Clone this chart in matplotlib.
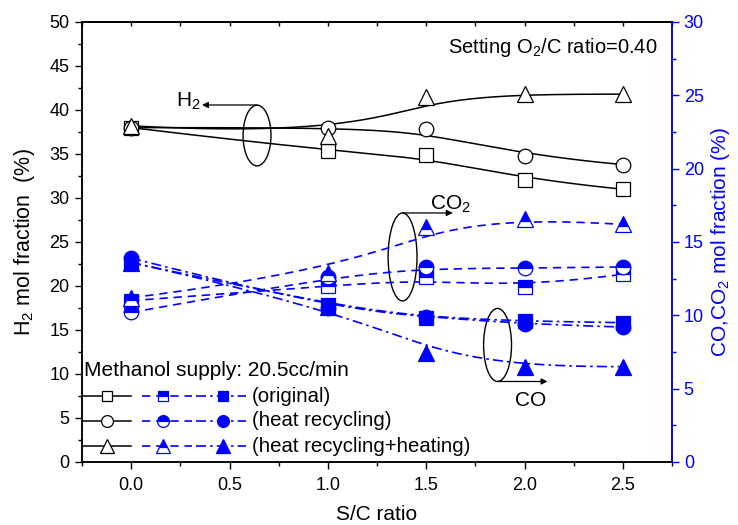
import numpy as np
import matplotlib
matplotlib.use("Agg")
import matplotlib.pyplot as plt
from matplotlib.patches import Ellipse
from matplotlib.ticker import MultipleLocator

plt.rcParams['font.family'] = ['Liberation Sans', 'DejaVu Sans']
plt.rcParams['mathtext.fontset'] = 'custom'
plt.rcParams['mathtext.rm'] = 'Liberation Sans'
plt.rcParams['mathtext.it'] = 'Liberation Sans'

# ---- data ----
sc_ratio = [0.0, 1.0, 1.5, 2.0, 2.5]

h2_original = [38.0, 35.3, 34.9, 32.1, 31.0]
h2_heat = [38.0, 38.0, 37.8, 34.8, 33.8]
h2_heat_heating = [38.2, 37.0, 41.5, 41.8, 41.8]

co2_original = [11.0, 12.0, 12.6, 11.9, 12.8]
co2_heat = [10.2, 12.6, 13.3, 13.2, 13.3]
co2_heat_heating = [11.2, 12.9, 16.0, 16.6, 16.2]

co_original = [13.6, 10.7, 9.8, 9.6, 9.5]
co_heat = [13.9, 10.5, 9.9, 9.4, 9.2]
co_heat_heating = [13.6, 10.6, 7.4, 6.5, 6.5]

legend_labels = ['(original)', '(heat recycling)', '(heat recycling+heating)']
markers = ['s', 'o', '^']

BLUE = '#0000FF'
MS = {'s': 10, 'o': 10.5, '^': 12}
MS_LEG = {'s': 7.5, 'o': 8.5, '^': 10.5}


def bspline(xs, ys, n=300, k=3):
    P = np.column_stack([xs, ys]).astype(float)
    m = len(P)
    knots = np.concatenate([[0] * k, np.arange(0, m - k + 1), [m - k] * k]).astype(float)
    t = np.linspace(0, m - k - 1e-9, n)

    def N(i, p, t):
        if p == 0:
            return ((knots[i] <= t) & (t < knots[i + 1])).astype(float)
        a = np.zeros_like(t)
        b = np.zeros_like(t)
        d1 = knots[i + p] - knots[i]
        d2 = knots[i + p + 1] - knots[i + 1]
        if d1 > 0:
            a = (t - knots[i]) / d1 * N(i, p - 1, t)
        if d2 > 0:
            b = (knots[i + p + 1] - t) / d2 * N(i + 1, p - 1, t)
        return a + b

    B = np.array([N(i, k, t) for i in range(m)])
    C = B.T @ P
    C = np.vstack([C, P[-1]])
    return C[:, 0], C[:, 1]


DASH = (0, (5, 3.5))
DASHDOT = (0, (6, 2.5, 1.5, 2.5))

fig = plt.figure(figsize=(7.38, 5.25), dpi=100)
ax = fig.add_axes([82 / 738, 1 - 462 / 525, 590 / 738, 440 / 525])
ax2 = ax.twinx()

# H2 curves
for ys, mk in zip([h2_original, h2_heat, h2_heat_heating], markers):
    sx, sy = bspline(sc_ratio, ys)
    ax.plot(sx, sy, color='black', lw=1.1, zorder=2)
    ax.plot(sc_ratio, ys, linestyle='none', marker=mk, ms=MS[mk],
            mfc='white', mec='black', mew=0.9, zorder=3)

# CO2 curves (dashed, half-filled markers)
for ys, mk in zip([co2_original, co2_heat, co2_heat_heating], markers):
    sx, sy = bspline(sc_ratio, ys)
    ax2.plot(sx, sy, color=BLUE, lw=1.2, ls=DASH, zorder=2)
    ax2.plot(sc_ratio, ys, linestyle='none', marker=mk, ms=MS[mk],
             fillstyle='top', mfc=BLUE, mfcalt='white', mec=BLUE, mew=0.9, zorder=3)

# CO curves (dash-dot, filled markers)
for ys, mk in zip([co_original, co_heat, co_heat_heating], markers):
    sx, sy = bspline(sc_ratio, ys)
    ax2.plot(sx, sy, color=BLUE, lw=1.2, ls=DASHDOT, zorder=2)
    ax2.plot(sc_ratio, ys, linestyle='none', marker=mk, ms=MS[mk],
             mfc=BLUE, mec=BLUE, mew=0.9, zorder=3)

# axes limits/ticks
ax.set_xlim(-0.25, 2.75)
ax.set_ylim(0, 50)
ax2.set_ylim(0, 30)
ax.xaxis.set_major_locator(MultipleLocator(0.5))
ax.xaxis.set_minor_locator(MultipleLocator(0.25))
ax.yaxis.set_major_locator(MultipleLocator(5))
ax.yaxis.set_minor_locator(MultipleLocator(2.5))
ax2.yaxis.set_major_locator(MultipleLocator(5))
ax2.yaxis.set_minor_locator(MultipleLocator(2.5))
ax.xaxis.set_major_formatter(matplotlib.ticker.FormatStrFormatter('%.1f'))

ax.tick_params(axis='both', which='major', direction='out', length=5, width=1, labelsize=13, pad=4)
ax.tick_params(axis='both', which='minor', direction='out', length=3, width=1)
ax.tick_params(axis='x', top=False, pad=6)
ax2.tick_params(axis='y', which='major', direction='out', length=5, width=1, colors=BLUE, labelsize=13)
ax2.tick_params(axis='y', which='minor', direction='out', length=3, width=1, colors=BLUE)
ax2.spines['right'].set_color(BLUE)

sec = ax.secondary_xaxis('top')
sec.xaxis.set_major_locator(MultipleLocator(0.25))
sec.tick_params(direction='in', length=3, width=1, labeltop=False)

for a in (ax, ax2):
    for s in a.spines.values():
        s.set_linewidth(1.1)
sec.spines['top'].set_linewidth(1.1)

ax.set_xlabel('S/C ratio', fontsize=15, labelpad=8)
ax.set_ylabel('H$_2$ mol fraction  (%)', fontsize=15.5, labelpad=9)
ax2.set_ylabel('CO,CO$_2$ mol fraction (%)', fontsize=15, color=BLUE, labelpad=4)

ax2.set_zorder(ax.get_zorder() + 1)
ax.patch.set_visible(True)
ax2.patch.set_visible(False)

# annotations (in left-axis data coords)
ell_kw = dict(fill=False, edgecolor='black', lw=1.0, zorder=5)
ax.add_patch(Ellipse((0.64, 37.1), 0.142, 6.9, **ell_kw))
ax.add_patch(Ellipse((1.38, 23.3), 0.147, 10.0, **ell_kw))
ax.add_patch(Ellipse((1.863, 13.3), 0.142, 8.3, **ell_kw))
arr = dict(arrowstyle='-|>', lw=0.9, color='black', mutation_scale=9, shrinkA=0, shrinkB=0)
ax.annotate('', xy=(0.36, 40.57), xytext=(0.64, 40.57), arrowprops=arr, zorder=5)
ax.annotate('', xy=(1.635, 28.3), xytext=(1.38, 28.3), arrowprops=arr, zorder=5)
ax.annotate('', xy=(2.117, 9.15), xytext=(1.863, 9.15), arrowprops=arr, zorder=5)
ax.text(0.355, 41.0, 'H$_2$', fontsize=15, ha='right', va='center')
ax.text(1.52, 29.3, 'CO$_2$', fontsize=15, ha='left', va='center')
ax.text(1.95, 7.0, 'CO', fontsize=15, ha='left', va='center')

ax.text(0.976, 0.943, 'Setting O$_2$/C ratio=0.40', transform=ax.transAxes,
        fontsize=14.5, ha='right', va='center')


# custom legend (axes fraction coordinates)
def fx(px):
    return (px - 82) / 590


def fy(py):
    return (462 - py) / 440


ax.text(fx(84), fy(370), 'Methanol supply: 20.5cc/min', transform=ax.transAxes,
        fontsize=15, ha='left', va='center')
for row, (mk, lab) in enumerate(zip(markers, legend_labels)):
    y = fy(396 + row * 25)
    msz = MS_LEG[mk]
    ax2.plot([fx(83), fx(131)], [y, y], color='black', lw=1.1, transform=ax.transAxes, clip_on=False)
    ax2.plot([fx(107)], [y], marker=mk, ms=msz, mfc='white', mec='black', mew=0.9,
             transform=ax.transAxes, clip_on=False, ls='none')
    ax2.plot([fx(142), fx(192)], [y, y], color=BLUE, lw=1.2, ls=DASH,
             transform=ax.transAxes, clip_on=False)
    ax2.plot([fx(163)], [y], marker=mk, ms=msz, fillstyle='top', mfc=BLUE, mfcalt='white',
             mec=BLUE, mew=0.9, transform=ax.transAxes, clip_on=False, ls='none')
    ax2.plot([fx(196), fx(246)], [y, y], color=BLUE, lw=1.2, ls=DASHDOT,
             transform=ax.transAxes, clip_on=False)
    ax2.plot([fx(223)], [y], marker=mk, ms=msz, mfc=BLUE, mec=BLUE, mew=0.9,
             transform=ax.transAxes, clip_on=False, ls='none')
    ax.text(fx(252), y, lab, transform=ax.transAxes, fontsize=14.7, ha='left', va='center')

fig.savefig('out.png', dpi=100)
